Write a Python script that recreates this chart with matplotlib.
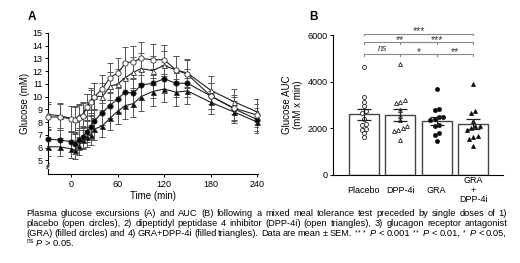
import matplotlib
matplotlib.use("Agg")
import matplotlib.pyplot as plt
import numpy as np

plt.rcParams['font.family'] = ['Liberation Sans', 'DejaVu Sans']
plt.rcParams['mathtext.fontset'] = 'custom'
plt.rcParams['mathtext.rm'] = 'Liberation Sans'
plt.rcParams['mathtext.it'] = 'Liberation Sans:italic'

# Panel A: glucose time course (mean, SEM)
times = [-30, -15, 0, 5, 10, 15, 20, 25, 30, 40, 50, 60, 70, 80, 90, 105, 120, 135, 150, 180, 210, 240]
placebo = [8.4, 8.4, 8.25, 8.15, 8.35, 8.5, 9.2, 9.55, 10.0, 10.6, 11.5, 11.85, 12.65, 12.75, 13.0, 12.9, 12.9, 12.1, 11.75, 10.05, 9.1, 8.55]
placebo_sem = [1.0, 1.0, 1.0, 1.0, 1.0, 1.0, 1.0, 1.0, 1.05, 1.1, 1.15, 1.2, 1.25, 1.25, 1.3, 1.2, 1.15, 1.1, 1.1, 1.0, 1.0, 0.9]
dpp4i = [8.6, 8.5, 8.3, 8.25, 8.5, 8.6, 9.2, 9.7, 10.05, 10.0, 10.8, 11.0, 11.5, 11.9, 12.2, 12.05, 12.45, 12.1, 11.85, 10.5, 9.6, 8.8]
dpp4i_sem = [1.0, 1.0, 1.0, 1.0, 0.95, 1.0, 1.0, 1.0, 1.0, 1.05, 1.1, 1.15, 1.2, 1.2, 1.2, 1.15, 1.1, 1.1, 1.1, 1.1, 1.0, 1.0]
gra = [6.65, 6.6, 6.45, 6.3, 6.6, 6.85, 7.25, 7.6, 8.1, 8.75, 9.3, 9.85, 10.35, 10.27, 10.9, 11.05, 11.4, 11.05, 11.05, 10.05, 9.05, 8.2]
gra_sem = [0.8, 0.8, 0.8, 0.8, 0.8, 0.85, 0.85, 0.9, 0.9, 0.95, 1.0, 1.05, 1.1, 1.1, 1.15, 1.15, 1.1, 1.1, 1.1, 1.0, 0.9, 0.9]
gra_dpp4i = [6.07, 6.05, 5.9, 5.8, 6.15, 6.6, 6.85, 7.0, 7.45, 7.7, 8.3, 8.85, 9.3, 9.45, 10.0, 10.4, 10.6, 10.35, 10.45, 9.55, 8.8, 8.0]
gra_dpp4i_sem = [0.7, 0.7, 0.7, 0.7, 0.7, 0.75, 0.8, 0.8, 0.85, 0.9, 0.95, 1.0, 1.05, 1.05, 1.1, 1.1, 1.05, 1.05, 1.0, 0.9, 0.85, 0.85]

# Panel B: AUC
groups = ['Placebo', 'DPP-4i', 'GRA', 'GRA\n+\nDPP-4i']
auc_mean = [2600, 2570, 2320, 2180]
auc_sem = [250, 240, 170, 200]
auc_placebo = [4650, 3330, 3150, 2950, 2750, 2650, 2400, 2200, 2150, 1980, 1950, 1800, 1650]
auc_dpp4i = [4750, 3200, 3100, 3150, 2800, 2550, 2350, 2100, 1950, 1900, 2000, 1500]
auc_gra = [3700, 2850, 2780, 2500, 2480, 2420, 2350, 2150, 2100, 1780, 1720, 1470]
auc_gra_dpp4i = [3880, 2750, 2650, 2300, 2120, 2080, 2000, 1950, 1680, 1620, 1550, 1250]

# comparisons: (group i, group j, label, row)
comparisons = [(0, 3, '***', 0), (0, 2, '**', 1), (1, 3, '***', 1),
               (0, 1, 'ns', 2), (1, 2, '*', 2), (2, 3, '**', 2)]
row_levels = [6050, 5690, 5170]

caption = [
    'Plasma glucose excursions (A) and AUC (B) following a mixed meal tolerance test preceded by single doses of 1)',
    'placebo (open circles), 2) dipeptidyl peptidase 4 inhibitor (DPP-4i) (open triangles), 3) glucagon receptor antagonist',
    r'(GRA) (filled circles) and 4) GRA+DPP-4i (filled triangles). Data are mean ± SEM. $^{***}$ $\mathit{P}$ < 0.001 $^{**}$ $\mathit{P}$ < 0.01, $^{*}$ $\mathit{P}$ < 0.05,',
    r'$^{\mathrm{ns}}$ $\mathit{P}$ > 0.05.',
]


def dodge(vals, tol, step):
    vals = np.asarray(vals, dtype=float)
    order = np.argsort(vals)
    offs = np.zeros(len(vals))
    cluster = [order[0]]
    for k in order[1:]:
        if vals[k] - vals[cluster[-1]] < tol:
            cluster.append(k)
        else:
            n = len(cluster)
            offs[cluster] = (np.arange(n) - (n - 1) / 2) * step
            cluster = [k]
    n = len(cluster)
    offs[cluster] = (np.arange(n) - (n - 1) / 2) * step
    return offs


W, H = 520, 263
fig = plt.figure(figsize=(W / 100, H / 100), dpi=100)

# ---------------- panel A
ax = fig.add_axes([48 / W, 1 - 174 / H, 210 / W, 141 / H])
series = [
    (placebo, placebo_sem, 'o', 'white'),
    (dpp4i, dpp4i_sem, '^', 'white'),
    (gra, gra_sem, 'o', 'black'),
    (gra_dpp4i, gra_dpp4i_sem, '^', 'black'),
]
for vals, sem, mk, fc in series[::-1]:
    ax.errorbar(times, vals, yerr=sem, fmt='none', ecolor='#555555',
                elinewidth=0.7, capsize=2, capthick=0.7, zorder=2)
    ax.plot(times, vals, '-', color='#222222', lw=0.8, marker=mk,
            ms=3.8 if mk == 'o' else 3.6, mfc=fc, mec='#333333', mew=0.6, zorder=3,
            clip_on=False)

ax.set_xlim(-30, 241)
ax.set_ylim(3.92, 15)
ax.set_xticks([0, 60, 120, 180, 240])
ax.set_yticks(range(5, 16))
for s in ['top', 'right']:
    ax.spines[s].set_visible(False)
ax.spines['left'].set_bounds(4.75, 15)
ax.spines['left'].set_linewidth(0.8)
ax.spines['bottom'].set_linewidth(0.8)
# lower piece of the broken y axis and the break marks
ax.plot([-30, -30], [3.92, 4.3], color='black', lw=0.8, clip_on=False)
for yb in [4.45, 4.62]:
    ax.plot([-31.5, -28.5], [yb - 0.12, yb + 0.12], color='black', lw=0.7, clip_on=False)
ax.tick_params(labelsize=6.5, length=2.5, width=0.7, pad=1.5)
ax.set_xlabel('Time (min)', fontsize=7, labelpad=1.5)
ax.set_ylabel('Glucose (mM)', fontsize=7, labelpad=2)
fig.text(32 / W, 1 - 17 / H, 'A', fontsize=8.5, fontweight='bold', va='center', ha='center')

# ---------------- panel B
bx = fig.add_axes([333 / W, 1 - 175 / H, 170 / W, 140 / H])
xpos = np.arange(len(groups))
bx.bar(xpos, auc_mean, width=0.82, color='white', edgecolor='#444444', linewidth=1.0, zorder=1)
bx.errorbar(xpos, auc_mean, yerr=auc_sem, fmt='none', ecolor='#222222',
            elinewidth=0.9, capsize=5, capthick=0.9, zorder=4)
point_sets = [(auc_placebo, 'o', 'white'), (auc_dpp4i, '^', 'white'),
              (auc_gra, 'o', 'black'), (auc_gra_dpp4i, '^', 'black')]
for i, (vals, mk, fc) in enumerate(point_sets):
    offs = dodge(vals, 110, 0.12)
    bx.plot(i + offs, vals, linestyle='none', marker=mk, ms=2.9, mfc=fc,
            mec='#222222', mew=0.6, zorder=3)

bx.set_xlim(-0.85, 3.82)
bx.set_ylim(0, 6000)
bx.set_yticks([0, 2000, 4000, 6000])
bx.set_xticks(xpos)
bx.set_xticklabels(groups)
for s in ['top', 'right']:
    bx.spines[s].set_visible(False)
bx.spines['left'].set_linewidth(0.8)
bx.spines['bottom'].set_linewidth(0.8)
bx.tick_params(axis='y', labelsize=6.5, length=2.5, width=0.7, pad=1.5)
bx.tick_params(axis='x', labelsize=6.5, length=0, pad=11)
for lab in bx.get_xticklabels():
    lab.set_va('center')
    lab.set_linespacing(1.05)
bx.set_ylabel('Glucose AUC\n(mM x min)', fontsize=7, labelpad=3, linespacing=1.1)
fig.text(314 / W, 1 - 17 / H, 'B', fontsize=8.5, fontweight='bold', va='center', ha='center')

for i, j, lab, row in comparisons:
    y = row_levels[row]
    bx.plot([i, i, j, j], [y - 60, y, y, y - 60], color='#888888', lw=0.8, clip_on=False, zorder=0)
    if lab == 'ns':
        bx.text((i + j) / 2, y + 40, lab, ha='center', va='bottom', fontsize=6.5,
                style='italic', color='#333333')
    else:
        bx.text((i + j) / 2, y - 110, lab, ha='center', va='bottom', fontsize=7.5,
                color='#333333')

# ---------------- caption, justified like the journal text
renderer = fig.canvas.get_renderer()
x_left, x_right = 26, 507
line_y = [216, 226, 236, 246.5]


def layout_caption(fs):
    placed = []
    min_gap = 99.0
    for k, line in enumerate(caption):
        yb = 1 - line_y[k] / H
        if k == len(caption) - 1:
            placed.append(fig.text(x_left / W, yb, line, fontsize=fs, ha='left', va='baseline'))
            continue
        words = line.split(' ')
        texts = [fig.text(0, yb, w, fontsize=fs, ha='left', va='baseline') for w in words]
        widths = [t.get_window_extent(renderer).width for t in texts]
        gap = (x_right - x_left - sum(widths)) / (len(words) - 1)
        min_gap = min(min_gap, gap)
        x = x_left
        for t, w in zip(texts, widths):
            t.set_x(x / W)
            x += w + gap
        placed.extend(texts)
    return placed, min_gap


# largest font size whose lines still fit with a normal word gap
for fs in np.arange(7.2, 5.9, -0.1):
    placed, min_gap = layout_caption(fs)
    if min_gap >= 1.9:
        break
    for t in placed:
        t.remove()

fig.savefig('out.png', dpi=100)
